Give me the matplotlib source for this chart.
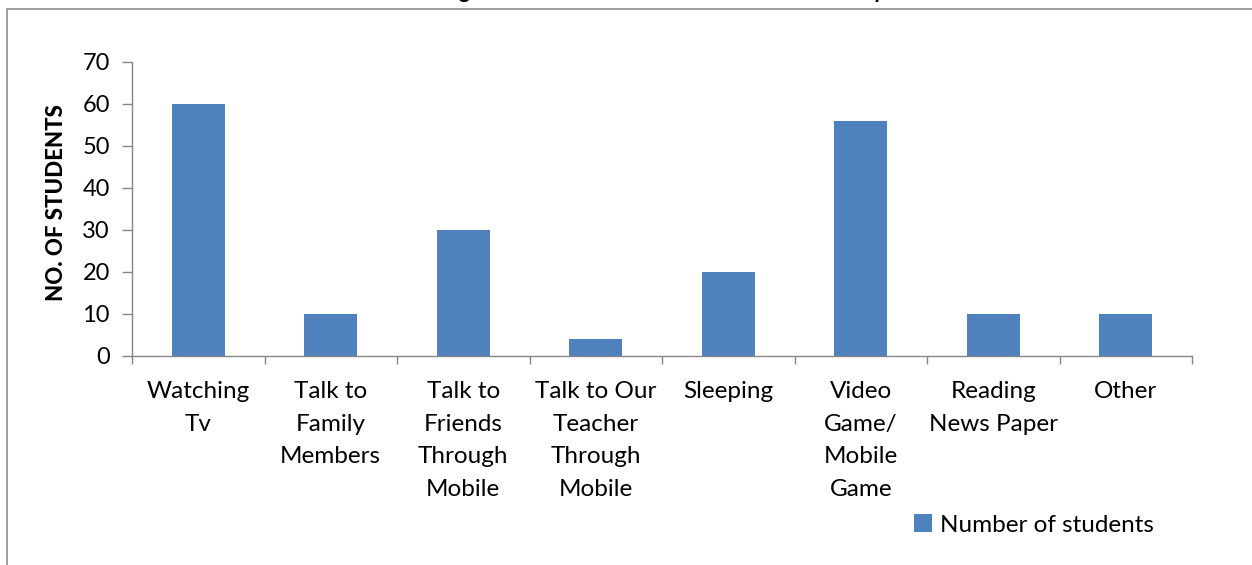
#!/usr/bin/env python3
"""Bar chart: how students spend their free time (number of students)."""

import numpy as np
import matplotlib
matplotlib.use("Agg")
import matplotlib.pyplot as plt
from matplotlib.patches import Rectangle

# ── Data ──
categories = [
    "Watching\nTv",
    "Talk to\nFamily\nMembers",
    "Talk to\nFriends\nThrough\nMobile",
    "Talk to Our\nTeacher\nThrough\nMobile",
    "Sleeping",
    "Video\nGame/\nMobile\nGame",
    "Reading\nNews Paper",
    "Other",
]
students = [60, 10, 30, 4, 20, 56, 10, 10]
y_ticks = [0, 10, 20, 30, 40, 50, 60, 70]

series_name = "Number of students"
title = "Activities during free time of students at home in lockdown period"

BAR = "#4F81BD"
AXIS = "#868686"

plt.rcParams["font.family"] = ["Lato", "DejaVu Sans"]

W, H, DPI = 1252, 565, 100
fig = plt.figure(figsize=(W / DPI, H / DPI), dpi=DPI)
fig.patch.set_facecolor("white")

# chart frame (top/left edges visible, rest cut off by image edge)
fig.patches.append(Rectangle((7 / W, -0.05), 1.2, 1 - 9 / H + 0.05,
                             transform=fig.transFigure, fill=False,
                             edgecolor="#8c8c8c", lw=1.2))

# title sits mostly above the visible area, as in the source image
fig.text(0.5, 1 + 2 / H, title, ha="center", va="baseline",
         fontsize=15, fontweight="bold")

ax = fig.add_axes([132 / W, 1 - 356 / H, (1192 - 132) / W, (356 - 62) / H])
x = np.arange(len(categories))
ax.bar(x, students, width=0.4, color=BAR, label=series_name, zorder=2)

ax.set_xlim(-0.5, len(categories) - 0.5)
ax.set_ylim(0, 70)
ax.set_yticks(y_ticks)
ax.tick_params(axis="y", labelsize=17, length=7, width=1, color=AXIS, pad=9)

# category separators as major ticks, labels on minor ticks
ax.set_xticks(np.arange(len(categories) + 1) - 0.5)
ax.set_xticklabels([])
ax.set_xticks(x, minor=True)
ax.set_xticklabels(categories, minor=True, fontsize=17.5, linespacing=1.68)
ax.tick_params(axis="x", which="major", length=6, width=1, color=AXIS)
ax.tick_params(axis="x", which="minor", length=0, pad=18)

for s in ("top", "right"):
    ax.spines[s].set_visible(False)
for s in ("left", "bottom"):
    ax.spines[s].set_color(AXIS)
    ax.spines[s].set_linewidth(1)

ax.set_ylabel("NO. OF STUDENTS", fontsize=16, fontweight="black", labelpad=5)
ax.yaxis.set_label_coords(-65 / 1060, 0.5 + 6 / 294)

ax.legend(loc="center left", bbox_to_anchor=(914 / W, 1 - 525 / H),
          bbox_transform=fig.transFigure, frameon=False, fontsize=17.5,
          handlelength=0.75, handleheight=0.75, handletextpad=0.3,
          borderaxespad=0, borderpad=0)

fig.savefig("out.png", dpi=DPI, facecolor="white")
